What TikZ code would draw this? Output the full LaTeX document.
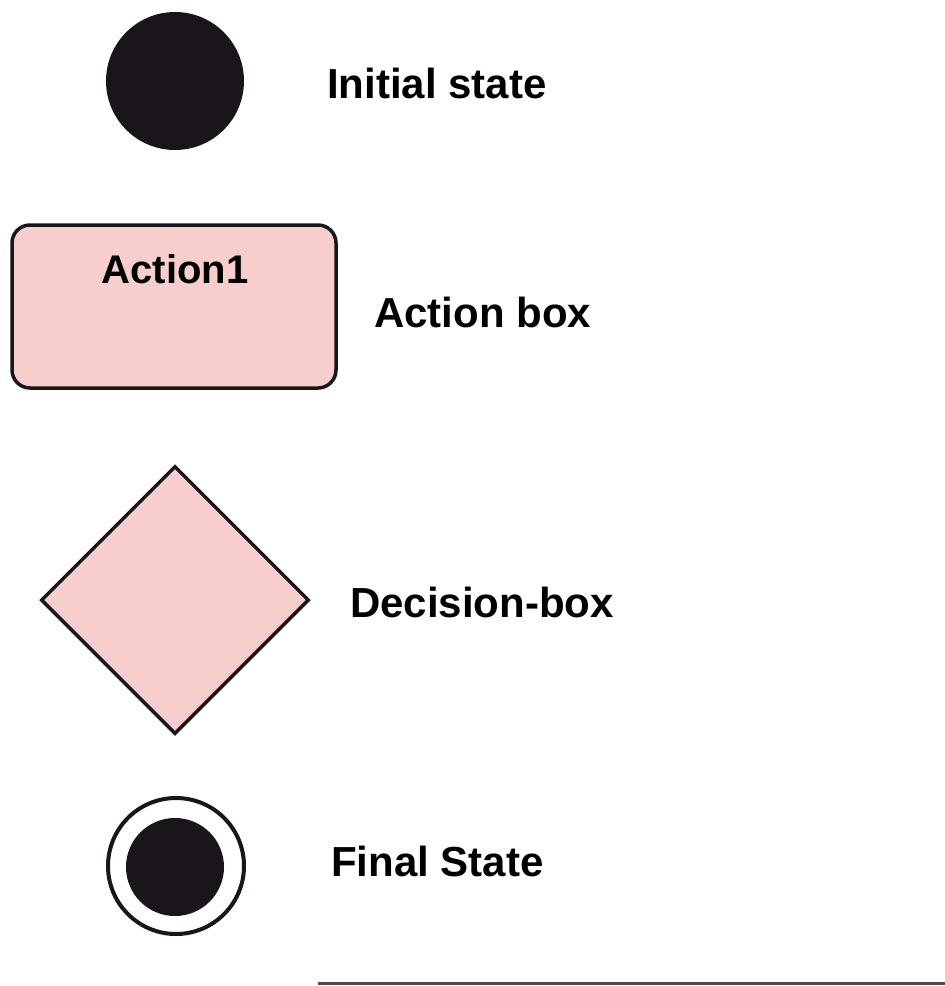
\documentclass[tikz,border=0pt]{standalone}
\usepackage{fontspec}
\setmainfont{Liberation Sans}
\usetikzlibrary{shapes.geometric}
\definecolor{ink}{HTML}{1A151B}
\definecolor{rosy}{HTML}{F8CECC}
\tikzset{
  caption/.style={anchor=base west,font=\fontsize{42}{48}\selectfont\bfseries,inner sep=0},
  blob/.style={circle,fill=ink,inner sep=0}
}
\begin{document}
\begin{tikzpicture}[x=1pt,y=-1pt]
                \useasboundingbox (0,0) rectangle (945,986);
                % initial state
                \node (init) [blob,minimum size=138pt] at (175,81) {};
                \node (initlbl) [caption] at (327,98) {Initial state};
                % action box
                \draw [fill=rosy,draw=ink,line width=3.5pt,rounded corners=18pt] (12,225) rectangle (336,388);
                \node (act) [anchor=base,inner sep=0,font=\fontsize{40}{46}\selectfont\bfseries] at (175,283) {Action1};
                \node (actlbl) [caption] at (374,327) {Action box};
                % decision box
                \node (dec) [diamond,fill=rosy,draw=ink,line width=3.5pt,inner sep=0,minimum width=268pt,minimum height=268pt] at (175,600) {};
                \node (declbl) [caption] at (350,617) {Decision-box};
                % final state
                \begin{scope}
                    \clip (90,780) rectangle (270,936);
                    \node (fin) [circle,draw=ink,line width=4pt,inner sep=0,minimum size=136pt] at (176,866) {};
                \end{scope}
                \node (fincore) [blob,minimum size=98pt] at (175,867) {};
                \node (finlbl) [caption] at (331,876) {Final State};
                \draw [line width=3pt,draw=black!70] (318,983.5) -- (945,983.5);
            \end{tikzpicture}
\end{document}
